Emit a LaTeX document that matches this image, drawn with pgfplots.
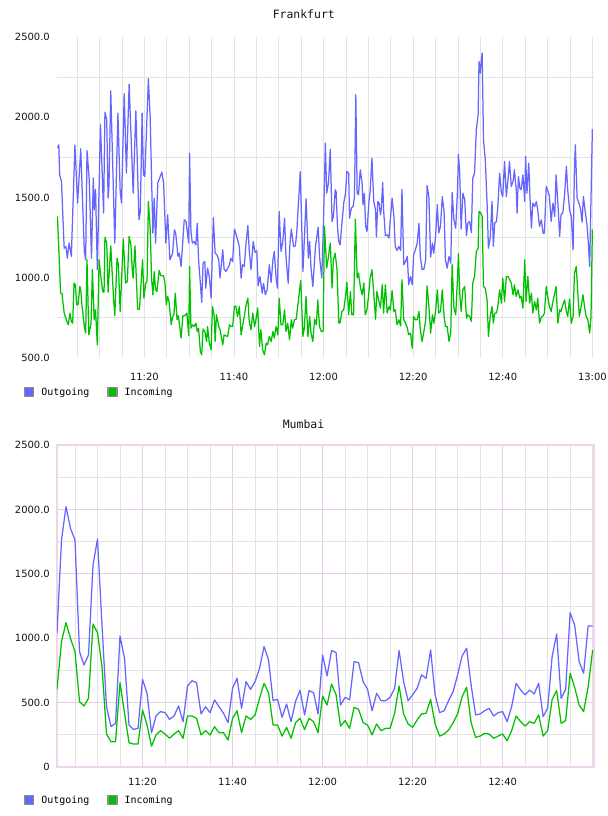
\documentclass[border=0pt]{standalone}
\usepackage{pgfplots}
\usepackage{pgfplotstable}
\pgfplotsset{compat=1.18}
\usepackage{fontspec}
\setmainfont{DejaVu Sans}
\newfontfamily\monofont{DejaVu Sans Mono}

\definecolor{outblue}{RGB}{102,102,255}
\definecolor{ingreen}{RGB}{0,192,0}
\definecolor{gridgrey}{RGB}{228,228,228}
\definecolor{gridlilac}{RGB}{232,204,232}
\definecolor{borderlilac}{RGB}{236,214,236}
\definecolor{legendedge}{RGB}{140,140,140}
\definecolor{ticktext}{RGB}{20,20,20}

% x = minutes after 11:00, y = traffic
\pgfplotstableread{
x y
0.6 1808
0.9 1828
1.1 1641
1.5 1600
2.1 1184
2.5 1195
2.8 1122
3.2 1216
3.7 1133
4.5 1828
5.1 1465
5.8 1803
6.6 1164
6.9 1112
7.2 1793
7.7 1610
8.1 1216
8.2 1122
8.6 1621
8.8 1423
9.1 1552
9.5 1050
10.2 1953
10.9 1403
11.2 2032
11.6 1984
11.9 1496
12.1 1569
12.5 2165
13.4 1216
14.1 2026
14.6 1538
14.9 1465
15.5 2146
16.0 1652
16.6 2206
17.5 1527
18.1 2040
18.8 1361
19.1 1413
19.5 2026
19.8 1641
20.1 1631
20.9 2240
21.3 1995
21.6 1631
21.9 1278
22.2 1496
22.5 1216
23.0 1590
23.9 1658
24.3 1590
24.8 1216
25.2 1392
25.7 1112
26.3 1153
26.7 1299
27.0 1278
27.5 1133
27.8 1153
28.2 1070
28.9 1361
29.3 1351
29.9 1216
30.1 1776
30.4 1288
30.7 1216
31.1 1226
31.5 1205
31.8 1340
32.1 1112
32.5 966
32.8 846
33.1 1091
33.5 1101
33.7 935
34.1 1060
34.5 1008
34.9 873
35.4 1375
35.8 1153
36.2 1143
36.6 1112
36.9 998
37.5 1174
37.8 1054
38.2 1039
38.6 1060
39.0 1081
39.3 1122
39.7 1101
40.1 1303
40.4 1278
40.8 1236
41.2 1195
41.6 998
41.9 1081
42.3 1070
42.7 1216
43.1 1324
43.4 1174
43.8 1050
44.3 1226
44.7 1158
45.1 1168
45.4 950
45.8 1008
46.3 904
46.6 966
47.0 894
47.4 925
47.9 1081
48.3 971
48.7 1112
49.0 1164
49.4 998
49.7 935
50.1 1413
50.5 1164
50.9 1226
51.3 1371
51.6 1133
52.1 966
52.5 1216
52.8 1303
53.3 1195
53.7 1199
54.0 1274
54.8 1662
55.4 1039
56.1 1492
56.6 1122
56.9 1226
57.2 1060
57.6 945
58.0 1112
58.2 1195
58.8 1315
59.1 1133
59.6 998
60.0 1361
60.4 1839
60.7 1527
61.1 1590
61.5 1801
61.9 1351
62.2 1382
62.6 1548
62.8 1538
63.1 1320
63.4 1226
63.7 1205
64.1 1340
64.5 1465
64.9 1527
65.2 1662
65.6 1652
65.8 1371
66.2 1434
66.6 1444
66.9 1506
67.2 2140
67.5 1527
67.8 1517
68.2 1673
68.6 1590
68.8 1455
69.1 1527
69.4 1320
69.7 1288
70.1 1465
70.4 1538
70.8 1745
71.2 1475
71.6 1423
71.8 1253
72.1 1475
72.4 1465
72.7 1392
72.9 1434
73.2 1594
73.4 1423
73.8 1261
74.2 1268
74.6 1247
74.9 1361
75.3 1496
75.7 1382
76.0 1195
76.4 1170
76.8 1195
77.2 1170
77.5 1552
77.9 1081
78.3 1101
78.7 1133
79.0 956
79.4 1008
79.8 956
80.1 1143
80.5 1174
80.9 1216
81.3 1340
81.6 1133
82.0 1050
82.4 1054
82.8 1112
83.1 1575
83.5 1506
83.9 1129
84.3 1216
84.6 1153
85.0 1257
85.4 1455
85.7 1278
86.1 1320
86.5 1506
86.9 1413
87.2 1112
87.6 1060
88.0 1133
88.4 1091
88.7 1531
89.1 1361
89.5 1309
89.9 1548
90.1 1770
90.4 1652
90.7 1303
91.1 1527
91.5 1486
91.9 1261
92.2 1340
92.6 1351
93.0 1282
93.3 1621
93.7 1652
94.1 1922
94.5 2015
94.7 2348
95.0 2275
95.2 2348
95.4 2400
95.7 1860
96.1 1735
96.5 1465
96.8 1184
97.2 1247
97.6 1475
97.9 1195
98.2 1340
98.6 1351
98.9 1444
99.3 1652
99.7 1527
100.0 1506
100.4 1725
100.8 1506
101.2 1621
101.5 1725
101.9 1569
102.3 1600
102.6 1673
103.0 1548
103.2 1403
103.5 1631
103.8 1559
104.1 1548
104.5 1641
104.9 1475
105.1 1756
105.4 1527
105.8 1714
106.1 1486
106.4 1309
106.7 1465
107.1 1444
107.5 1475
107.8 1423
108.2 1320
108.6 1361
109.0 1278
109.3 1278
109.7 1569
110.1 1538
110.4 1511
110.8 1351
111.2 1465
111.6 1382
111.9 1641
112.3 1465
112.7 1257
113.0 1392
113.4 1403
113.8 1517
114.2 1694
114.5 1548
114.9 1423
115.3 1382
115.7 1174
116.0 1673
116.2 1828
116.6 1496
117.0 1465
117.4 1423
117.7 1345
118.0 1506
118.4 1413
118.8 1330
119.1 1216
119.4 1070
120.0 1926
}\frankfurtout

\pgfplotstableread{
x y
0.6 1382
1.3 904
1.6 904
2.1 780
2.6 738
3.0 707
3.4 780
3.7 728
4.0 717
4.3 966
4.6 956
4.9 831
5.2 831
5.6 946
5.8 925
6.1 821
6.6 696
6.9 655
7.2 1112
7.6 644
8.1 717
8.4 1050
8.8 738
9.1 800
9.5 582
9.9 1112
10.2 1029
10.7 914
11.0 910
11.2 1253
11.6 1216
11.9 910
12.5 1199
13.1 883
13.4 763
13.9 1122
14.2 1081
14.6 790
15.3 1241
15.8 966
16.2 977
16.6 1257
17.0 1205
17.3 1050
17.5 998
17.9 1199
18.5 804
18.9 804
19.6 1112
19.9 873
20.3 966
20.6 977
20.9 1475
21.3 1309
21.6 998
21.9 894
22.2 1039
22.5 925
22.8 914
23.3 1045
23.7 1012
24.3 1012
24.6 966
24.9 831
25.2 883
25.5 852
26.0 707
26.3 759
26.6 769
26.9 904
27.3 738
27.6 763
28.2 624
28.6 763
29.0 763
29.5 780
29.9 638
30.1 1070
30.4 686
30.7 707
31.1 696
31.5 717
31.8 665
32.1 686
32.5 541
32.8 520
33.1 680
33.5 665
33.9 603
34.1 696
34.5 593
34.9 551
35.2 821
35.6 759
35.8 603
36.1 769
36.6 696
36.9 676
37.5 582
37.8 644
38.2 638
38.6 634
39.0 707
39.3 696
39.7 696
40.1 821
40.4 825
40.8 759
41.2 821
41.6 644
41.9 696
42.3 759
42.7 831
43.1 873
43.4 728
43.8 676
44.2 780
44.6 696
44.9 738
45.3 811
45.7 572
46.0 676
46.4 551
46.8 520
47.2 593
47.5 582
47.9 634
48.3 603
48.7 665
49.0 624
49.4 696
49.8 644
50.1 873
50.5 707
50.9 707
51.3 800
51.6 665
52.0 717
52.4 613
52.8 738
53.1 686
53.5 738
53.9 742
54.9 983
55.4 634
55.7 686
56.1 883
56.5 634
56.9 759
57.2 655
57.6 603
58.0 742
58.4 707
58.7 862
59.1 696
59.5 665
59.9 665
60.2 1320
60.4 1216
60.7 1060
61.1 1133
61.5 1216
61.9 935
62.2 1112
62.6 1153
63.0 1050
63.4 717
63.7 721
64.1 790
64.5 800
64.9 883
65.2 971
65.6 769
66.0 914
66.3 769
66.7 769
67.1 1365
67.5 998
67.8 1029
68.2 946
68.6 894
69.0 966
69.3 769
69.7 800
70.1 904
70.4 998
70.8 1050
71.2 904
71.6 742
71.9 914
72.3 862
72.7 811
73.1 956
73.4 780
73.8 956
74.2 780
74.6 821
74.9 800
75.3 919
75.7 790
76.0 800
76.4 707
76.8 738
77.2 700
77.5 987
77.9 738
78.3 717
78.7 686
79.0 644
79.4 655
79.8 561
80.1 759
80.5 738
80.9 738
81.3 790
81.6 676
82.0 603
82.4 665
82.8 738
83.1 950
83.5 831
83.9 655
84.3 769
84.6 717
85.0 790
85.4 925
85.7 780
86.1 790
86.5 925
86.9 759
87.2 696
87.6 696
88.0 603
88.4 665
88.7 1081
89.1 811
89.5 769
89.9 998
90.1 1150
90.4 904
90.7 790
91.1 925
91.5 946
91.9 748
92.2 769
92.6 759
93.0 728
93.3 966
93.7 1008
94.1 1164
94.5 1184
94.7 1413
95.0 1407
95.4 1382
95.7 946
96.1 935
96.5 862
96.8 634
97.2 759
97.6 821
97.9 717
98.2 780
98.6 780
98.9 821
99.3 925
99.7 842
100.0 998
100.4 852
100.8 1008
101.2 1008
101.5 991
101.9 966
102.3 894
102.6 956
103.0 883
103.4 925
103.8 873
104.1 883
104.5 811
104.9 1112
105.2 852
105.6 1008
106.0 842
106.4 904
106.7 780
107.1 852
107.5 800
107.8 873
108.2 717
108.6 755
109.0 763
109.3 780
109.7 946
110.1 873
110.4 821
110.8 790
111.2 852
111.6 904
111.9 946
112.3 717
112.7 800
113.0 790
113.4 831
113.8 862
114.2 790
114.5 759
114.9 867
115.3 717
115.7 759
116.0 1029
116.4 1070
116.8 883
117.1 759
117.5 821
117.9 894
118.3 811
118.6 759
119.0 738
119.4 655
119.7 759
120.0 1300
}\frankfurtin

\pgfplotstableread{
x y
1 1038
2 1762
3 2021
4 1853
5 1762
6 895
7 792
8 870
9 1568
10 1770
11 1100
12 468
13 313
14 339
15 1017
16 844
17 326
18 292
19 300
20 681
21 572
22 266
23 396
24 430
25 422
26 370
27 396
28 474
29 352
30 629
31 670
32 655
33 412
34 468
35 422
36 521
37 468
38 417
39 344
40 611
41 689
42 456
43 663
44 603
45 663
46 766
47 935
48 831
49 515
50 526
51 386
52 489
53 352
54 510
55 595
56 404
57 593
58 577
59 412
60 870
61 707
62 904
63 888
64 481
65 541
66 521
67 818
68 810
69 663
70 603
71 437
72 572
73 515
74 515
75 541
76 611
77 904
78 663
79 515
80 560
81 611
82 715
83 689
84 909
85 560
86 422
87 437
88 515
89 585
90 715
91 862
92 922
93 637
94 404
95 412
96 437
97 456
98 396
99 422
100 430
101 352
102 468
103 650
104 598
105 560
106 598
107 567
108 650
109 391
110 456
111 857
112 1033
113 533
114 603
115 1198
116 1102
117 818
118 728
119 1095
120 1095
}\mumbaiout

\pgfplotstableread{
x y
1 603
2 973
3 1120
4 999
5 895
6 507
7 474
8 533
9 1110
10 1042
11 779
12 256
13 196
14 196
15 655
16 417
17 188
18 178
19 178
20 443
21 326
22 162
23 249
24 282
25 256
26 223
27 256
28 282
29 223
30 396
31 396
32 378
33 249
34 282
35 249
36 313
37 266
38 266
39 209
40 378
41 437
42 266
43 396
44 370
45 404
46 533
47 650
48 577
49 326
50 326
51 240
52 308
53 223
54 344
55 378
56 290
57 378
58 352
59 266
60 551
61 481
62 644
63 560
64 318
65 360
66 300
67 463
68 448
69 344
70 326
71 249
72 334
73 282
74 300
75 300
76 417
77 629
78 412
79 334
80 308
81 365
82 412
83 417
84 525
85 334
86 240
87 256
88 287
89 344
90 412
91 546
92 619
93 344
94 230
95 240
96 261
97 256
98 223
99 240
100 256
101 204
102 282
103 396
104 352
105 318
106 352
107 339
108 404
109 240
110 282
111 525
112 593
113 339
114 360
115 727
116 619
117 481
118 430
119 624
120 908
}\mumbaiin

\pgfplotsset{
  traffic/.style={
    scale only axis,
    minor xtick={5,10,...,120},
    xmajorgrids, xminorgrids,
    major tick length=0pt, minor tick length=0pt,
    tick label style={font=\fontsize{10}{11}\selectfont, text=ticktext},
    yticklabel style={anchor=east, inner sep=0pt, xshift=-7bp},
    title style={anchor=center, at={(0.5,1)}, xshift=-22bp,
      font=\monofont\fontsize{11.5}{12}\selectfont, text=ticktext},
    legend columns=2,
    legend style={at={(0,0)}, anchor=west, xshift=-33bp, draw=none, fill=none,
      inner sep=0pt, font=\monofont\fontsize{10}{11}\selectfont,
      /tikz/every odd column/.style={column sep=5bp},
      /tikz/every even column/.style={column sep=16bp}},
    legend image code/.code={%
      \draw[#1, fill, draw=legendedge, line width=1.2bp] (0bp,-4.5bp) rectangle (9bp,4.5bp);},
  },
  series/.style={line width=1.25bp, line join=round, mark=none},
}

\begin{document}
\begin{tikzpicture}
\useasboundingbox (0bp,0bp) rectangle (608bp,816bp);

\begin{axis}[traffic,
  at={(57bp,458bp)}, anchor=south west,
  width=537.6bp, height=321bp,
  xmin=0.5, xmax=120.5, ymin=500, ymax=2500,
  xtick={20,40,...,120},
  xticklabels={11:20,11:40,12:00,12:20,12:40,13:00},
  ytick={500,1000,...,2500},
  yticklabels={500.0,1000.0,1500.0,2000.0,2500.0},
  minor ytick={750,1250,1750,2250},
  yminorgrids,
  major grid style={draw=gridgrey, line width=0.8bp},
  minor grid style={draw=gridgrey, line width=0.8bp},
  axis line style={draw=none},
  xticklabel style={anchor=center, inner sep=0pt, yshift=-19bp},
  title={Frankfurt}, title style={yshift=17bp},
  legend style={yshift=-34bp},
]
\addplot[series, outblue] table {\frankfurtout};
\addplot[series, ingreen] table {\frankfurtin};
\legend{Outgoing, Incoming}
\end{axis}

\begin{axis}[traffic,
  at={(57bp,49bp)}, anchor=south west,
  width=537bp, height=322bp,
  xmin=1, xmax=120.3, ymin=0, ymax=2500,
  xtick={20,40,...,100},
  xticklabels={11:20,11:40,12:00,12:20,12:40},
  ytick={0,500,...,2500},
  yticklabels={0,500.0,1000.0,1500.0,2000.0,2500.0},
  minor ytick={250,750,...,2250},
  ymajorgrids, yminorgrids,
  major grid style={draw=gridlilac, line width=0.9bp},
  minor grid style={draw=gridgrey, line width=0.8bp},
  axis line style={draw=borderlilac, line width=1.2bp},
  xticklabel style={anchor=center, inner sep=0pt, yshift=-15bp},
  title={Mumbai}, title style={yshift=15bp},
  legend style={yshift=-33bp},
]
\addplot[series, outblue] table {\mumbaiout};
\addplot[series, ingreen] table {\mumbaiin};
\legend{Outgoing, Incoming}
\end{axis}
\end{tikzpicture}
\end{document}
